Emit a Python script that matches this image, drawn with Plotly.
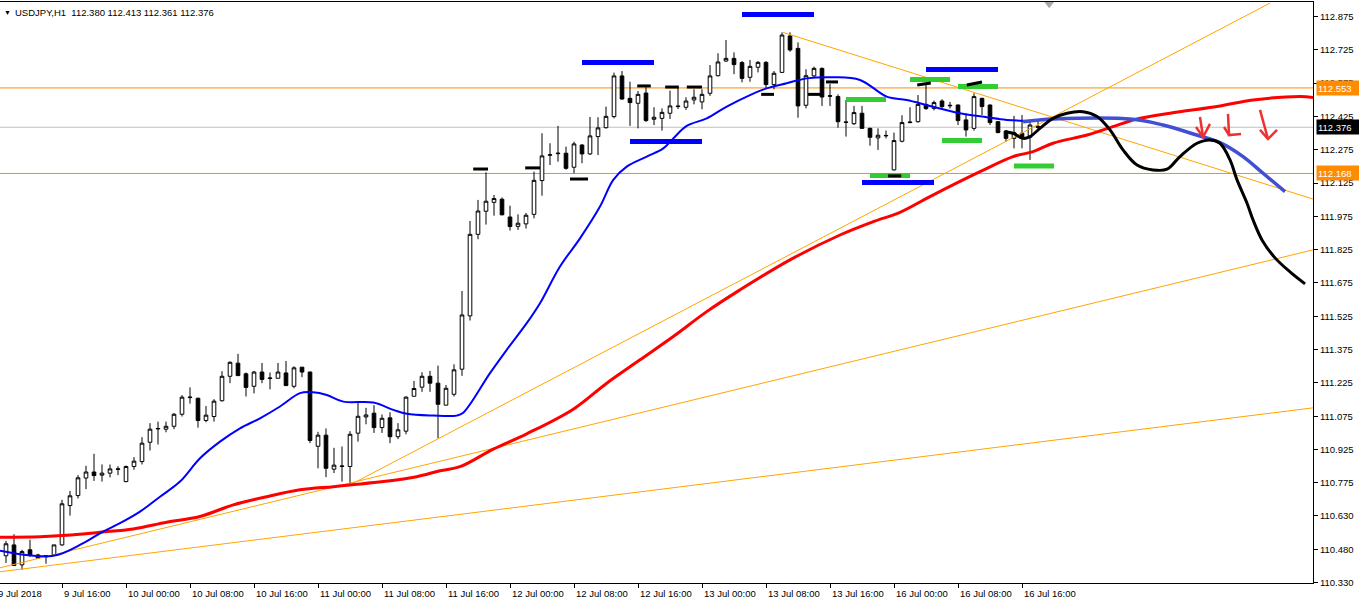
import plotly.graph_objects as go

# ---------------- data ----------------
symbol_title = "USDJPY,H1\u00a0\u00a0112.380 112.413 112.361 112.376"

opens = [110.447,110.496,110.406,110.474,110.451,110.442,110.451,110.496,110.673,110.718,
         110.797,110.824,110.810,110.819,110.836,110.781,110.849,110.871,110.958,111.018,
         111.017,111.030,111.084,111.159,111.156,111.056,111.074,111.145,111.255,111.314,
         111.266,111.210,111.274,111.245,111.246,111.270,111.210,111.296,111.274,110.940,
         110.990,110.837,110.849,110.849,110.999,111.072,111.089,111.024,111.068,110.983,
         111.008,111.165,111.206,111.255,111.224,111.125,111.174,111.287,111.527,111.894,
         111.998,112.038,112.052,111.972,111.930,111.941,111.984,112.136,112.250,112.257,
         112.259,112.196,112.296,112.256,112.334,112.374,112.424,112.607,112.506,112.484,
         112.530,112.412,112.416,112.439,112.469,112.466,112.499,112.490,112.529,112.608,
         112.674,112.686,112.667,112.601,112.646,112.668,112.568,112.623,112.787,112.731,
         112.475,112.607,112.641,112.518,112.514,112.400,112.392,112.439,112.371,112.328,
         112.337,112.184,112.313,112.397,112.401,112.479,112.461,112.494,112.475,112.476,
         112.409,112.371,112.506,112.476,112.401,112.359,112.326,112.349,112.331,112.380]
highs = [110.514,110.544,110.474,110.519,110.456,110.448,110.496,110.699,110.739,110.810,
         110.852,110.906,110.858,110.858,110.850,110.853,110.891,110.981,111.044,111.051,
         111.051,111.090,111.170,111.205,111.159,111.121,111.152,111.278,111.322,111.356,
         111.272,111.279,111.315,111.272,111.315,111.324,111.300,111.297,111.276,111.005,
         111.020,110.933,110.939,111.008,111.144,111.113,111.125,111.083,111.093,111.044,
         111.165,111.234,111.273,111.279,111.303,111.216,111.309,111.639,111.954,112.049,
         112.173,112.071,112.060,112.023,111.984,111.990,112.176,112.349,112.304,112.382,
         112.289,112.311,112.300,112.422,112.421,112.469,112.622,112.629,112.581,112.539,
         112.566,112.466,112.461,112.541,112.556,112.511,112.547,112.547,112.656,112.709,
         112.769,112.713,112.674,112.679,112.674,112.674,112.629,112.803,112.803,112.758,
         112.637,112.649,112.645,112.571,112.524,112.499,112.472,112.472,112.374,112.371,
         112.361,112.352,112.430,112.466,112.521,112.574,112.496,112.502,112.490,112.479,
         112.439,112.529,112.509,112.479,112.404,112.364,112.427,112.431,112.406,112.413]
lows = [110.415,110.402,110.384,110.442,110.433,110.411,110.448,110.492,110.628,110.705,
        110.747,110.784,110.781,110.800,110.810,110.778,110.834,110.858,110.921,110.948,
        111.003,111.017,111.074,111.132,111.024,111.048,111.051,111.141,111.224,111.257,
        111.164,111.178,111.224,111.196,111.246,111.213,111.201,111.251,110.954,110.841,
        110.801,110.819,110.781,110.766,110.961,111.039,111.000,111.000,110.954,110.972,
        110.994,111.165,111.185,111.185,110.976,111.125,111.164,111.257,111.506,111.872,
        111.938,111.978,111.979,111.911,111.914,111.920,111.966,112.068,112.206,112.221,
        112.185,112.169,112.214,112.251,112.251,112.370,112.416,112.500,112.382,112.371,
        112.400,112.386,112.361,112.413,112.458,112.454,112.479,112.457,112.517,112.605,
        112.671,112.615,112.578,112.581,112.623,112.551,112.547,112.620,112.716,112.419,
        112.461,112.601,112.472,112.472,112.374,112.334,112.386,112.368,112.293,112.274,
        112.326,112.181,112.308,112.394,112.397,112.454,112.452,112.454,112.460,112.386,
        112.334,112.361,112.431,112.386,112.349,112.311,112.281,112.281,112.229,112.361]
closes = [110.501,110.403,110.466,110.451,110.436,110.448,110.496,110.681,110.717,110.798,
          110.824,110.808,110.819,110.838,110.838,110.849,110.873,110.954,111.017,111.020,
          111.030,111.084,111.161,111.161,111.056,111.080,111.143,111.255,111.318,111.258,
          111.205,111.274,111.241,111.247,111.274,111.213,111.293,111.274,110.966,110.990,
          110.841,110.855,110.851,110.994,111.075,111.081,111.024,111.066,110.983,111.014,
          111.161,111.200,111.255,111.224,111.129,111.201,111.284,111.531,111.894,111.999,
          112.043,112.055,111.982,111.929,111.944,111.980,112.137,112.247,112.252,112.259,
          112.191,112.301,112.256,112.337,112.373,112.425,112.607,112.503,112.487,112.524,
          112.406,112.421,112.443,112.472,112.471,112.494,112.511,112.524,112.607,112.670,
          112.686,112.658,112.596,112.650,112.668,112.568,112.619,112.791,112.724,112.472,
          112.608,112.641,112.512,112.516,112.401,112.398,112.442,112.371,112.331,112.340,
          112.339,112.316,112.397,112.399,112.479,112.460,112.487,112.469,112.473,112.406,
          112.364,112.514,112.469,112.397,112.352,112.326,112.352,112.326,112.386,112.376]
bars = list(range(len(opens)))

# moving averages (bar position, price)
blue_ma_x = [-0.75,5.91,9.66,12.13,14.25,16.75,19.25,21.75,24.25,26.75,29.25,31.75,34.25,36.75,
             38.38,40.09,42.16,45.91,48.41,50.09,53.38,56.34,57.16,60.5,62.59,65.09,66.75,69.25,
             71.75,74.25,75.91,77.59,80.09,82.16,83.41,85.09,87.59,90.09,93.0,95.09,
             97.59,100.09,103.41,106.75,110.09,112.59,115.5,119.25,122.59,125.09,129.0]
blue_ma_y = [110.470,110.447,110.504,110.556,110.594,110.646,110.713,110.781,110.886,110.961,
             111.021,111.066,111.119,111.179,111.183,111.171,111.141,111.137,111.104,111.086,
             111.078,111.078,111.091,111.269,111.374,111.494,111.584,111.749,111.876,112.019,
             112.139,112.199,112.244,112.281,112.326,112.382,112.416,112.469,
             112.521,112.551,112.574,112.596,112.601,112.589,112.514,112.499,112.472,112.439,
             112.421,112.409,112.404]
red_ma_x = [-0.75,4.25,7.59,11.75,15.91,20.09,24.25,28.41,32.59,36.75,40.91,43.0,47.16,51.34,
            54.25,56.75,60.91,65.09,70.91,75.09,79.25,83.41,87.59,91.75,98.0,104.25,108.41,
            111.75,115.5,121.75,125.88,128.38,130.88,135.13,138.38,141.38,145.5,151.75,155.88,
            161.75,163.4]
red_ma_y = [110.531,110.533,110.539,110.553,110.568,110.598,110.624,110.676,110.713,110.744,
            110.758,110.766,110.781,110.803,110.830,110.848,110.927,110.996,111.107,111.224,
            111.329,111.434,111.546,111.644,111.779,111.891,111.951,111.993,112.064,112.176,
            112.244,112.266,112.304,112.341,112.379,112.413,112.439,112.472,112.499,112.514,
            112.510]

# hand-drawn projections
blue_proj_x = [127.13,130.88,140.88,144.63,148.84,151.75,154.63,157.13,159.88]
blue_proj_y = [112.401,112.413,112.412,112.386,112.341,112.307,112.244,112.169,112.086]
black_proj_x = [124.88,125.88,127.13,128.0,129.25,130.88,132.63,134.63,136.38,138.0,139.63,141.38,
                143.38,145.13,146.75,148.88,150.5,151.75,153.0,153.88,155.13,155.88,157.0,158.63,
                160.5,162.38]
black_proj_y = [112.356,112.349,112.326,112.334,112.371,112.416,112.439,112.446,112.424,112.364,
                112.274,112.206,112.184,112.187,112.244,112.304,112.319,112.304,112.229,112.139,
                112.034,111.959,111.869,111.788,111.725,111.671]

# trend lines: (start bar, start price, end bar, end price)
trend_lines = [(43.0, 110.766, 158.0, 112.935),
               (-0.75, 110.393, 163.38, 111.824),
               (-0.75, 110.375, 163.38, 111.113),
               (97.13, 112.803, 163.38, 112.053)]

# horizontal levels
level_orange = [112.553, 112.168]
level_bid = 112.376

# short segments: (start bar, end bar, price start, price end)
blue_segments = [(72, 81, 112.668, 112.668), (78, 87, 112.312, 112.312), (92, 101, 112.884, 112.884),
                 (115, 124, 112.636, 112.636), (107, 116, 112.127, 112.127)]
green_segments = [(105, 110, 112.501, 112.501), (113, 118, 112.591, 112.591), (119, 124, 112.559, 112.559),
                  (117, 122, 112.316, 112.316), (108, 113, 112.159, 112.159), (126, 131, 112.202, 112.202)]
black_segments = [(58.4, 60.25, 112.188, 112.188), (64.9, 66.75, 112.193, 112.193),
                  (70.5, 72.75, 112.143, 112.143), (78.9, 80.6, 112.562, 112.562),
                  (82.4, 84.1, 112.557, 112.557), (85.1, 87.0, 112.557, 112.557),
                  (94.4, 96.0, 112.524, 112.524), (100.25, 102.0, 112.524, 112.524),
                  (102.5, 104.0, 112.580, 112.580), (113.9, 115.6, 112.566, 112.575),
                  (120.1, 122.0, 112.566, 112.580), (110.25, 111.9, 112.157, 112.157)]

# red arrows (polylines)
arrows = [[(149.25, 112.422), (149.63, 112.332)], [(148.75, 112.377), (149.63, 112.332), (150.5, 112.391)],
          [(152.75, 112.436), (152.88, 112.341), (154.38, 112.346)], [(152.25, 112.377), (152.88, 112.341)],
          [(156.75, 112.454), (157.75, 112.323)], [(156.75, 112.364), (157.75, 112.323), (158.88, 112.364)]]

price_ticks = [112.875, 112.725, 112.575, 112.425, 112.275, 112.125, 111.975, 111.825, 111.675,
               111.525, 111.375, 111.225, 111.075, 110.925, 110.775, 110.627, 110.475, 110.3255]
price_tick_text = ["112.875", "112.725", "112.575", "112.425", "112.275", "112.125", "111.975",
                   "111.825", "111.675", "111.525", "111.375", "111.225", "111.075", "110.925",
                   "110.775", "110.630", "110.480", "110.330"]
time_tick_bars = [7, 15, 23, 31, 39, 47, 55, 63, 71, 79, 87, 95, 103, 111, 119, 127]
time_tick_text = ["9 Jul 16:00", "10 Jul 00:00", "10 Jul 08:00", "10 Jul 16:00", "11 Jul 00:00",
                  "11 Jul 08:00", "11 Jul 16:00", "12 Jul 00:00", "12 Jul 08:00", "12 Jul 16:00",
                  "13 Jul 00:00", "13 Jul 08:00", "13 Jul 16:00", "16 Jul 00:00", "16 Jul 08:00",
                  "16 Jul 16:00"]
first_date_label = "9 Jul 2018"

# ---------------- figure ----------------
FONT = "Liberation Sans"
FS = 9.5
ORANGE = "#FF8C00"
fig = go.Figure()

# horizontal levels
for lv in level_orange:
    fig.add_shape(type="line", xref="paper", x0=0, x1=1, yref="y", y0=lv, y1=lv,
                  line=dict(color=ORANGE, width=1), layer="below")
fig.add_shape(type="line", xref="paper", x0=0, x1=1, yref="y", y0=level_bid, y1=level_bid,
              line=dict(color="#C0C0C0", width=1), layer="below")

# trend lines
for x0, y0, x1, y1 in trend_lines:
    fig.add_trace(go.Scatter(x=[x0, x1], y=[y0, y1], mode="lines",
                             line=dict(color="#FFA500", width=1), hoverinfo="skip"))

# moving averages
fig.add_trace(go.Scatter(x=red_ma_x, y=red_ma_y, mode="lines", line_shape="spline",
                         line=dict(color="#FF0000", width=3), hoverinfo="skip"))
fig.add_trace(go.Scatter(x=blue_ma_x, y=blue_ma_y, mode="lines", line_shape="spline",
                         line=dict(color="#0000FF", width=2), hoverinfo="skip"))


def seg_trace(segs, color, width):
    xs, ys = [], []
    for a, b, p0, p1 in segs:
        xs += [a, b, None]
        ys += [p0, p1, None]
    return go.Scatter(x=xs, y=ys, mode="lines", line=dict(color=color, width=width),
                      hoverinfo="skip")


fig.add_trace(seg_trace(blue_segments, "#0000FF", 5))
fig.add_trace(seg_trace(green_segments, "#32CD32", 5))

# candles
fig.add_trace(go.Candlestick(
    x=bars, open=opens, high=highs, low=lows, close=closes,
    increasing=dict(line=dict(color="black", width=1), fillcolor="white"),
    decreasing=dict(line=dict(color="black", width=1), fillcolor="black"),
    whiskerwidth=0, hoverinfo="skip"))

fig.add_trace(seg_trace(black_segments, "#000000", 3))

# projections
fig.add_trace(go.Scatter(x=blue_proj_x, y=blue_proj_y, mode="lines", line_shape="spline",
                         line=dict(color="#4150D2", width=3.5), hoverinfo="skip"))
fig.add_trace(go.Scatter(x=black_proj_x, y=black_proj_y, mode="lines", line_shape="spline",
                         line=dict(color="#000000", width=3), hoverinfo="skip"))
for arr in arrows:
    fig.add_trace(go.Scatter(x=[p[0] for p in arr], y=[p[1] for p in arr], mode="lines",
                             line=dict(color="#F03030", width=2.5), hoverinfo="skip"))

# shift marker at top
fig.add_trace(go.Scatter(x=[130.4], y=[112.932], mode="markers", cliponaxis=False,
                         marker=dict(symbol="triangle-down", size=9, color="#A8A8A8"),
                         hoverinfo="skip"))

annotations = []
for tb, tt in zip(time_tick_bars, time_tick_text):
    annotations.append(dict(x=tb, y=0, xref="x", yref="paper", text=tt, showarrow=False,
                            xanchor="left", yanchor="top", xshift=0, yshift=-3,
                            font=dict(family=FONT, size=FS, color="black")))
annotations.append(dict(x=0, y=0, xref="paper", yref="paper", text=first_date_label, showarrow=False,
                        xanchor="left", yanchor="top", xshift=-4, yshift=-3,
                        font=dict(family=FONT, size=FS, color="black")))
for lv, bg in [(level_orange[0], ORANGE), (level_bid, "#000000"), (level_orange[1], ORANGE)]:
    annotations.append(dict(x=1, y=lv, xref="paper", yref="y", text=f"{lv:.3f}", showarrow=False,
                            xanchor="left", yanchor="middle", xshift=3, width=40, height=12,
                            align="left", bgcolor=bg, borderpad=1,
                            font=dict(family=FONT, size=FS, color="white")))
annotations.append(dict(x=0, y=1, xref="paper", yref="paper", text="\u25BC", showarrow=False,
                        xanchor="left", yanchor="top", xshift=2, yshift=-5,
                        font=dict(family=FONT, size=7, color="black")))
annotations.append(dict(x=0, y=1, xref="paper", yref="paper", text=symbol_title, showarrow=False,
                        xanchor="left", yanchor="top", xshift=13, yshift=-3,
                        font=dict(family=FONT, size=FS, color="black")))

fig.update_layout(
    width=1359, height=601, autosize=False,
    margin=dict(l=0, r=46, t=2, b=18, pad=0),
    paper_bgcolor="white", plot_bgcolor="white",
    showlegend=False, boxgap=0.35,
    annotations=annotations,
    xaxis=dict(range=[-0.75, 163.375], showgrid=False, zeroline=False,
               rangeslider=dict(visible=False), showline=True, mirror=True,
               linecolor="black", linewidth=1, ticks="outside", ticklen=4,
               tickcolor="black", tickvals=time_tick_bars, showticklabels=False,
               fixedrange=True),
    yaxis=dict(range=[110.3245, 112.9398], side="right", showgrid=False, zeroline=False,
               showline=True, linecolor="black", linewidth=1, ticks="outside", ticklen=4,
               tickcolor="black", tickvals=price_ticks, ticktext=price_tick_text,
               tickfont=dict(family=FONT, size=FS, color="black"), fixedrange=True),
)

fig.write_html("out.html", config={"displayModeBar": False},
               post_script="document.body.style.margin='0';document.body.style.overflow='hidden';")
